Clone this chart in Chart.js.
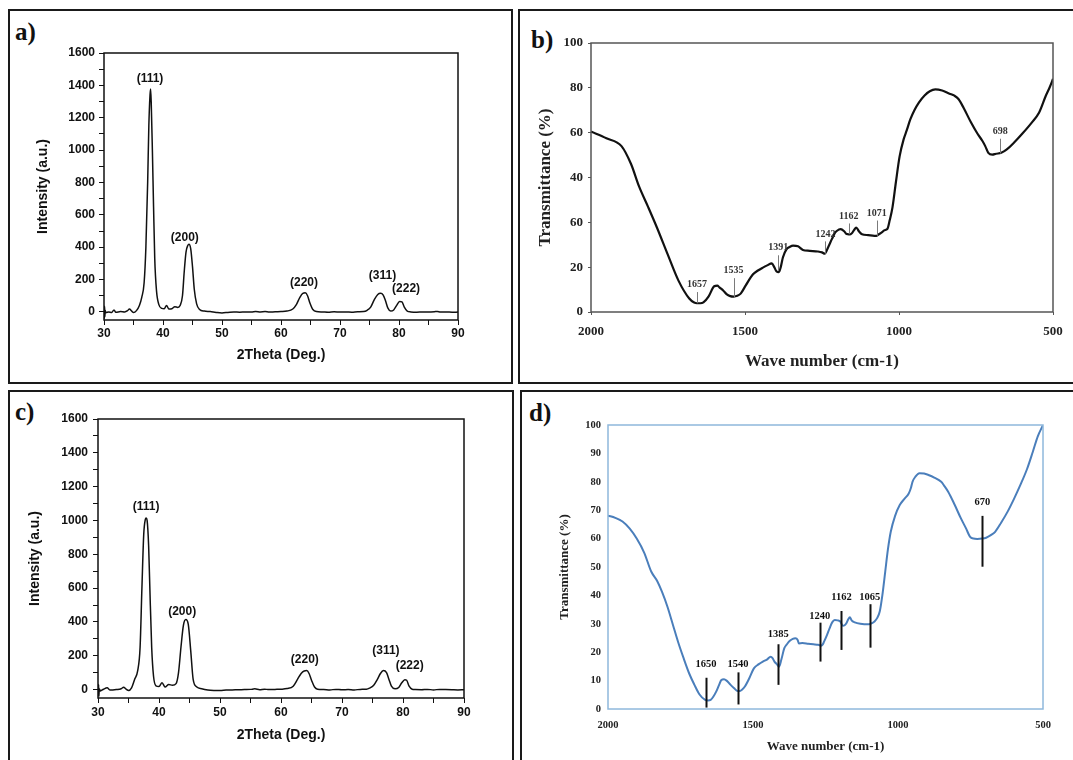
<!DOCTYPE html>
<html>
<head>
<meta charset="utf-8">
<script src="https://cdn.jsdelivr.net/npm/chart.js@4.4.1/dist/chart.umd.min.js"></script>
<style>
  html, body { margin: 0; padding: 0; background: #fff; overflow: hidden; }
  #page { position: relative; width: 1073px; height: 760px; overflow: hidden; background: #fff; }
  .panel { position: absolute; box-sizing: border-box; border: 2px solid #1a1a1a; }
  .tag { position: absolute; font: bold 25px/25px "Liberation Serif", "Times New Roman", serif; color: #111; }
  canvas { position: absolute; }
</style>
</head>
<body>
<div id="page">
  <div class="panel" style="left:8px;top:9px;width:505px;height:375px"></div>
  <div class="panel" style="left:518px;top:9px;width:570px;height:375px"></div>
  <div class="panel" style="left:8px;top:390px;width:506px;height:390px"></div>
  <div class="panel" style="left:520px;top:390px;width:570px;height:390px"></div>

  <div class="tag" style="left:15px;top:19px">a)</div>
  <div class="tag" style="left:531px;top:27px">b)</div>
  <div class="tag" style="left:15px;top:399px">c)</div>
  <div class="tag" style="left:529px;top:400px">d)</div>

  <canvas id="chartA" width="500" height="370" style="left:10px;top:11px"></canvas>
  <canvas id="chartB" width="552" height="370" style="left:521px;top:11px"></canvas>
  <canvas id="chartC" width="500" height="367" style="left:10px;top:393px"></canvas>
  <canvas id="chartD" width="551" height="367" style="left:522px;top:393px"></canvas>
</div>
<script>
// ---- data ----

// a) XRD pattern
const aTheta = [30, 30.05, 30.1, 30.15, 30.2, 30.3, 30.8, 31.3, 31.7, 32, 32.8, 33.5, 34, 34.3, 34.7, 35, 35.5,
  36, 36.4, 36.8, 37.1, 37.4, 37.6, 37.8, 37.9, 38, 38.2, 38.4, 38.6, 38.9, 39.3, 39.8, 40.2, 40.6, 41, 41.5,
  42, 42.5, 42.9, 43.3, 43.6, 43.9, 44.2, 44.4, 44.7, 45, 45.3, 45.7, 46.2, 47, 48, 49, 50, 51, 52, 53, 54, 55,
  55.7, 56.5, 57.3, 58, 59, 60, 61, 62, 62.6, 63.2, 63.7, 64.1, 64.5, 64.9, 65.4, 66, 67, 68, 69, 70, 71, 72,
  73, 74, 74.6, 75.2, 75.8, 76.4, 76.9, 77.3, 77.7, 78.1, 78.6, 79.1, 79.6, 80.1, 80.5, 80.9, 81.4, 82, 83, 84,
  85, 86, 86.5, 87, 88, 89, 90];
const aIntensity = [20, -40, 35, -30, 10, -5, 0, -3, 12, -2, 2, 0, 8, 18, 5, -4, 8,
  40, 90, 180, 400, 800, 1150, 1340, 1378, 1300, 1000, 650, 330, 130, 45, 22, 20, 40, 18, 20,
  32, 28, 40, 100, 250, 370, 410, 418, 390, 280, 140, 50, 15, 5, 2, -3, -6, -3, 0, -2, 0, -1,
  3, 0, 2, -1, 1, 2, 5, 18, 45, 90, 115, 118, 100, 55, 15, 2, 0, -2, 1, -1, 0, -2,
  1, 2, 10, 30, 75, 108, 115, 105, 70, 25, 5, 12, 40, 65, 62, 30, 5, 0, -2, 0,
  -1, 1, 3, -1, 0, -2, -1];
const aPeakX = [37.8, 43.7, 63.9, 77.2, 81.2];
const aPeakY = [1441, 461, 179, 226, 146];

// c) XRD pattern
const cTheta = [30, 30.05, 30.1, 30.15, 30.2, 30.4, 30.9, 31.5, 32, 33, 33.8, 34.2, 34.6, 35, 35.5,
  36, 36.5, 36.9, 37.2, 37.5, 37.75, 37.9, 38.05, 38.3, 38.5, 38.8, 39.1, 39.5, 40, 40.5, 41, 41.6,
  42.2, 42.8, 43.2, 43.6, 44, 44.4, 44.8, 45.2, 45.6, 46.2, 47, 48, 49, 50, 51, 52, 53, 54, 55,
  55.7, 56.5, 57.3, 58, 59, 60, 61, 62, 62.7, 63.3, 63.8, 64.2, 64.6, 65, 65.5, 66, 67, 68, 69, 70,
  71, 72, 73, 74, 74.5, 75.2, 75.8, 76.3, 76.8, 77.3, 77.7, 78.1, 78.7, 79.3, 79.8, 80.3, 80.6, 81,
  81.5, 82, 83, 84, 85, 86, 87, 88, 89, 90];
const cIntensity = [25, -35, 30, -40, 5, -8, 2, 10, -3, 0, 5, 14, 3, -6, 10,
  60, 110, 250, 600, 920, 1005, 1015, 1000, 850, 600, 250, 80, 22, 18, 40, 15, 30,
  25, 35, 100, 250, 380, 414, 385, 230, 60, 15, 5, -2, -5, -6, -3, -2, -1, 0, 1,
  4, -1, 2, 0, 1, 2, 6, 20, 60, 95, 110, 112, 95, 55, 15, 2, 0, -2, 1, -1,
  0, -2, 1, 2, 8, 25, 60, 95, 112, 100, 60, 20, 4, 12, 40, 58, 55, 20,
  2, 0, -1, 1, -2, 1, 0, -1, -2, -1];
const cPeakX = [37.9, 43.8, 63.9, 77.2, 81.1];
const cPeakY = [1083, 463, 177, 227, 142];

const peakNames = ['(111)', '(200)', '(220)', '(311)', '(222)'];

// b) FTIR spectrum (y in grid units, 20 per printed tick)
const bWave = [2000, 1950, 1901, 1870, 1844, 1815, 1786, 1751, 1716, 1681, 1665, 1656, 1645, 1635, 1618,
  1600, 1590, 1583, 1570, 1560, 1548, 1537, 1525, 1514, 1497, 1474, 1458, 1442, 1428, 1413, 1405, 1398,
  1390, 1384, 1377, 1365, 1355, 1344, 1328, 1312, 1290, 1264, 1250, 1241, 1230, 1218, 1207,
  1195, 1189, 1178, 1172, 1166, 1160, 1154, 1146, 1139, 1130, 1120, 1100, 1080, 1073, 1064, 1056, 1047,
  1038, 1030, 1021, 1010, 998, 985, 975, 963, 950, 935, 917, 900, 882, 860, 836, 820, 807, 790, 766,
  745, 730, 720, 710, 697, 685, 668, 650, 627, 600, 569, 545, 523, 510, 500];
const bTrans = [80.5, 77.5, 74, 66, 56, 47, 37.7, 25.7, 14, 6, 4.2, 3.9, 3.9, 4.3, 7,
  11.5, 11.8, 11, 9.5, 8, 7.1, 6.9, 7.2, 8.2, 12, 16.8, 18.5, 19.8, 20.8, 21.7, 20, 18.2,
  17.8, 20, 24.3, 28, 29, 29.6, 29.3, 27.7, 27.3, 27, 26.6, 26, 28.9, 32.5, 35.5,
  36.8, 37, 36, 35, 34.7, 34.6, 35, 36.5, 37.7, 36, 34.7, 34.3, 34, 34, 34.8, 35.5, 36.5,
  37, 41, 46.8, 58, 69.4, 77, 81, 86, 90, 93.5, 96.6, 98.5, 99.3, 98.8, 97.4, 96.5, 95, 91, 84.5,
  79.5, 76.5, 74, 71, 70.2, 70.6, 71, 72.5, 75.5, 79.5, 84.5, 89, 96.6, 100.5, 104];
const bYLabels = ['0', '20', '60', '40', '60', '80', '100'];
const bMarkText = ['1657', '1535', '1391', '1242', '1162', '1071', '698'];
const bMarkWave = [1656, 1537, 1392, 1239, 1163, 1072, 671];
const bMarkTop = [8.9, 15.1, 25.3, 31.5, 39.5, 40.8, 77.3];
const bMarkBottom = [3.9, 6.7, 18.3, 26, 34.7, 34, 70.7];
const bMarkLabelY = [12.3, 18.7, 28.7, 34.6, 42.6, 43.8, 80.5];

// d) FTIR spectrum
const dWave = [2000, 1975, 1950, 1925, 1901, 1875, 1851, 1830, 1814, 1795, 1776, 1758, 1739, 1720, 1702,
  1685, 1665, 1655, 1646, 1637, 1627, 1618, 1609, 1600, 1590, 1578, 1565, 1555, 1547, 1538, 1528, 1512,
  1497, 1480, 1466, 1452, 1439, 1432, 1426, 1418, 1410, 1402, 1392, 1383, 1373, 1363, 1354, 1346, 1342,
  1330, 1310, 1292, 1275, 1267, 1260, 1255, 1245, 1236, 1227, 1218, 1208, 1199, 1190, 1184, 1178, 1172,
  1166, 1160, 1149, 1130, 1100, 1090, 1081, 1072, 1063, 1054, 1044, 1035, 1025, 1010, 994, 978, 963, 955,
  950, 940, 926, 910, 895, 875, 851, 840, 827, 805, 783, 765, 752, 740, 727, 710, 696, 680, 665, 645,
  622, 600, 578, 555, 535, 518, 500];
const dTrans = [68.1, 67.3, 66, 63.5, 60, 55, 48.4, 45, 41.3, 36, 29.6, 23.5, 17.8, 12.5, 8.5,
  5.2, 3.2, 3, 3.2, 4.3, 6.1, 8.2, 10.2, 10.5, 9.9, 8.6, 7.3, 6.4, 6.3, 6.8, 7.9, 11,
  14.3, 15.8, 16.7, 17.4, 18.4, 17.8, 16.7, 15.8, 14.9, 17.5, 21.4, 22.8, 24, 24.7, 24.9, 24.3, 23.1,
  23.2, 23, 22.8, 22.6, 22.3, 22.7, 23.7, 26, 28.4, 30.5, 31.3, 31.2, 30.8, 29.3, 29.5, 30.2, 31.5,
  32.3, 31.2, 30.5, 30, 29.8, 30.2, 30.8, 32, 34.3, 40, 48.4, 56, 62.4, 68, 71.8, 74, 75.9, 78,
  80, 81.8, 83, 82.9, 82.4, 81.5, 80, 78.5, 76.5, 72, 67.1, 63.5, 60.7, 60, 59.9, 60, 60.3, 61.2, 62.4, 65.5,
  69.5, 74, 78.9, 84.5, 90.6, 96, 100];
const dMarkText = ['1650', '1540', '1385', '1240', '1162', '1065', '670'];
const dMarkWave = [1662, 1552, 1413, 1270, 1195, 1097, 709];
const dMarkTop = [11, 12.9, 22.8, 30.4, 34.5, 36.9, 68];
const dMarkBottom = [0.5, 1.6, 8.5, 16.7, 20.8, 21.6, 50.1];
const dMarkLabelY = [15.7, 15.7, 26.3, 32.7, 39.3, 39.3, 72.7];

// ---- helpers ----
const SANS = "'Liberation Sans', Arial, sans-serif";
const SERIF = "'Liberation Serif', 'Times New Roman', serif";

function toPoints(xs, ys) {
  return xs.map(function (x, i) { return { x: x, y: ys[i] }; });
}

// plain number labels (no "2,000" grouping)
function plainLabel(v) { return String(v); }

// tick list from..to with a step, used where the axis min is off the grid
function tickRange(from, to, step) {
  const out = [];
  for (let v = from; v <= to; v += step) out.push({ value: v });
  return out;
}

// plot frame, marker lines and text labels, all placed through the scales
const panelExtras = {
  id: 'panelExtras',
  afterDatasetsDraw(chart, args, opts) {
    const ctx = chart.ctx;
    const area = chart.chartArea;
    const xs = chart.scales.x;
    const ys = chart.scales.y;
    ctx.save();
    ctx.strokeStyle = opts.frameColor;
    ctx.lineWidth = opts.frameWidth;
    ctx.strokeRect(area.left, area.top, area.right - area.left, area.bottom - area.top);

    const marks = opts.marks;
    if (marks) {
      ctx.strokeStyle = opts.markColor;
      ctx.lineWidth = opts.markWidth;
      marks.x.forEach(function (v, i) {
        const px = Math.round(xs.getPixelForValue(v)) + 0.5;
        ctx.beginPath();
        ctx.moveTo(px, ys.getPixelForValue(marks.top[i]));
        ctx.lineTo(px, ys.getPixelForValue(marks.bottom[i]));
        ctx.stroke();
      });
    }
    const labels = opts.labels;
    if (labels) {
      ctx.fillStyle = opts.labelColor;
      ctx.font = opts.labelFont;
      ctx.textAlign = 'center';
      ctx.textBaseline = 'middle';
      labels.text.forEach(function (t, i) {
        ctx.fillText(t, xs.getPixelForValue(labels.x[i]), ys.getPixelForValue(labels.y[i]));
      });
    }
    ctx.restore();
  }
};
Chart.register(panelExtras);

function baseOptions(padTop, padRight, extras) {
  return {
    responsive: false,
    animation: false,
    devicePixelRatio: 1,
    layout: { padding: { left: 0, top: padTop, right: padRight, bottom: 0 } },
    plugins: { legend: { display: false }, tooltip: { enabled: false }, panelExtras: extras },
    elements: { point: { radius: 0 } }
  };
}

// ---- XRD panels (a, c) ----
function xrdChart(id, xs, ys, peakX, peakY, lay) {
  const opts = baseOptions(lay.top, lay.right, {
    frameColor: '#111', frameWidth: 1.5,
    labels: { text: peakNames, x: peakX, y: peakY },
    labelColor: '#111', labelFont: 'bold 12px ' + SANS
  });
  const tickFont = { family: SANS, size: 12, weight: 'bold' };
  const titleFont = { family: SANS, size: 14, weight: 'bold' };
  opts.scales = {
    x: {
      type: 'linear', min: 30, max: 90,
      border: { display: false },
      grid: { display: true, drawOnChartArea: false, tickLength: 5, color: '#111' },
      ticks: {
        stepSize: 5, autoSkip: false, maxRotation: 0, padding: lay.xPad, color: '#111', font: tickFont,
        callback: function (v) { return v % 10 === 0 ? String(v) : ''; }
      },
      title: { display: true, text: '2Theta (Deg.)', color: '#111', font: titleFont, padding: { top: 0, bottom: lay.xTitle } },
      afterFit: function (s) { s.height = lay.xHeight; }
    },
    y: {
      type: 'linear', min: -50, max: 1600,
      border: { display: false },
      grid: { display: true, drawOnChartArea: false, tickLength: 5, color: '#111' },
      ticks: {
        autoSkip: false, padding: lay.yPad, color: '#111', font: tickFont,
        callback: function (v) { return v % 200 === 0 ? String(v) : ''; }
      },
      afterBuildTicks: function (s) { s.ticks = tickRange(0, 1600, 100); },
      title: { display: true, text: 'Intensity (a.u.)', color: '#111', font: titleFont, padding: { top: lay.yTitle, bottom: 0 } },
      afterFit: function (s) { s.width = lay.yWidth; }
    }
  };
  return new Chart(document.getElementById(id), {
    type: 'line',
    data: {
      datasets: [{
        data: toPoints(xs, ys), borderColor: '#111', borderWidth: 1.5,
        pointRadius: 0, cubicInterpolationMode: 'monotone'
      }]
    },
    options: opts
  });
}

xrdChart('chartA', aTheta, aIntensity, aPeakX, aPeakY,
  { top: 42, right: 52, xHeight: 61, yWidth: 94, xPad: 1, yPad: 4, xTitle: 17, yTitle: 25 });
xrdChart('chartC', cTheta, cIntensity, cPeakX, cPeakY,
  { top: 26, right: 46, xHeight: 62, yWidth: 88, xPad: 2, yPad: 5, xTitle: 16, yTitle: 17 });

// ---- b) FTIR, black line ----
(function () {
  const opts = baseOptions(32, 20, {
    frameColor: '#555', frameWidth: 1.5,
    marks: { x: bMarkWave, top: bMarkTop, bottom: bMarkBottom },
    markColor: '#7a7a7a', markWidth: 1,
    labels: { text: bMarkText, x: bMarkWave, y: bMarkLabelY },
    labelColor: '#333', labelFont: 'bold 10px ' + SERIF
  });
  const tickFont = { family: SERIF, size: 13, weight: 'bold' };
  const titleFont = { family: SERIF, size: 17, weight: 'bold' };
  opts.scales = {
    x: {
      type: 'linear', reverse: true, min: 500, max: 2000,
      border: { display: false },
      grid: { display: true, drawOnChartArea: false, tickLength: 3, color: '#555' },
      ticks: { stepSize: 500, maxRotation: 0, padding: 9, color: '#222', font: tickFont, callback: plainLabel },
      title: { display: true, text: 'Wave number (cm-1)', color: '#222', font: titleFont, padding: { top: 0, bottom: 9 } },
      afterFit: function (s) { s.height = 69; }
    },
    y: {
      type: 'linear', min: 0, max: 120,
      border: { display: false },
      grid: { display: true, drawOnChartArea: false, tickLength: 3, color: '#555' },
      ticks: {
        stepSize: 20, padding: 5, color: '#222', font: tickFont,
        callback: function (v, i) { return bYLabels[i]; }
      },
      title: { display: true, text: 'Transmittance (%)', color: '#222', font: titleFont, padding: { top: 14, bottom: 0 } },
      afterFit: function (s) { s.width = 70; }
    }
  };
  new Chart(document.getElementById('chartB'), {
    type: 'line',
    data: {
      datasets: [{
        data: toPoints(bWave, bTrans), borderColor: '#111', borderWidth: 2.2,
        pointRadius: 0, cubicInterpolationMode: 'monotone'
      }]
    },
    options: opts
  });
})();

// ---- d) FTIR, blue Excel-style line ----
(function () {
  const opts = baseOptions(32, 30, {
    frameColor: '#8fb8dc', frameWidth: 1.5,
    marks: { x: dMarkWave, top: dMarkTop, bottom: dMarkBottom },
    markColor: '#111', markWidth: 2,
    labels: { text: dMarkText, x: dMarkWave, y: dMarkLabelY },
    labelColor: '#111', labelFont: 'bold 10.5px ' + SERIF
  });
  const tickFont = { family: SERIF, size: 10.5, weight: 'bold' };
  const titleFont = { family: SERIF, size: 13, weight: 'bold' };
  opts.scales = {
    x: {
      type: 'linear', reverse: true, min: 500, max: 2000,
      border: { display: false },
      grid: { display: false, drawTicks: false },
      ticks: { stepSize: 500, maxRotation: 0, padding: 10, color: '#222', font: tickFont, callback: plainLabel },
      title: { display: true, text: 'Wave number (cm-1)', color: '#222', font: titleFont, padding: { top: 0, bottom: 6 } },
      afterFit: function (s) { s.height = 51; }
    },
    y: {
      type: 'linear', min: 0, max: 100,
      border: { display: false },
      grid: { display: false, drawTicks: false },
      ticks: { stepSize: 10, padding: 7, color: '#222', font: tickFont },
      title: { display: true, text: 'Transmittance (%)', color: '#222', font: titleFont, padding: { top: 35, bottom: 0 } },
      afterFit: function (s) { s.width = 86; }
    }
  };
  new Chart(document.getElementById('chartD'), {
    type: 'line',
    data: {
      datasets: [{
        data: toPoints(dWave, dTrans), borderColor: '#4a7ebb', borderWidth: 2,
        pointRadius: 0, cubicInterpolationMode: 'monotone'
      }]
    },
    options: opts
  });
})();
</script>
</body>
</html>
